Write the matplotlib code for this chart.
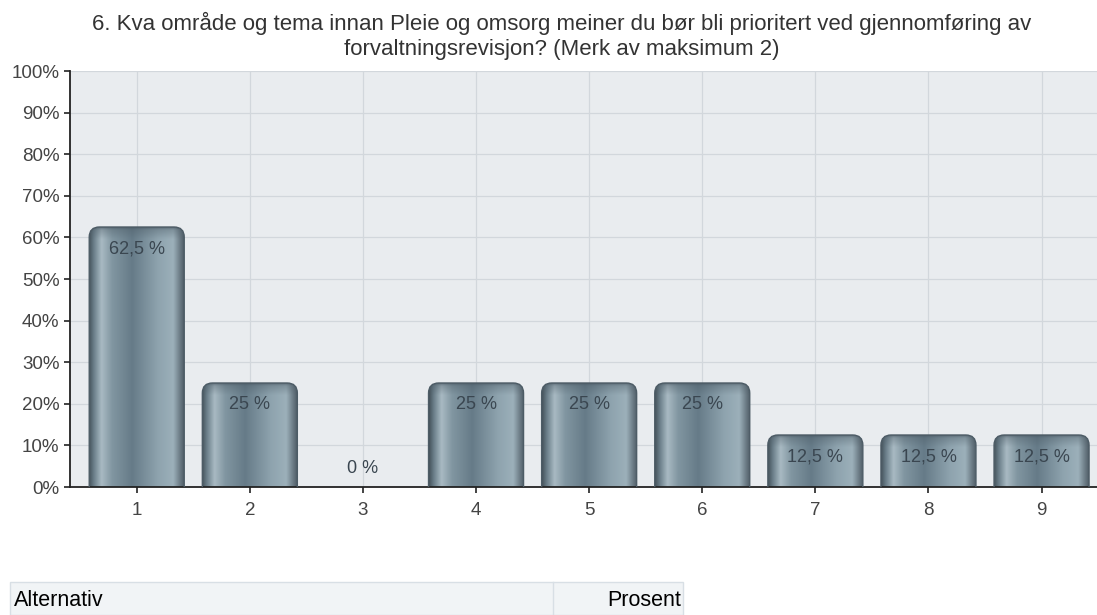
import numpy as np
import matplotlib
matplotlib.use("Agg")
import matplotlib.pyplot as plt
from matplotlib.patches import FancyBboxPatch, Rectangle
from matplotlib.colors import LinearSegmentedColormap

plt.rcParams["font.family"] = ["Liberation Sans", "DejaVu Sans"]

TITLE = ("6. Kva område og tema innan Pleie og omsorg meiner du bør bli prioritert ved gjennomføring av\n"
         "forvaltningsrevisjon? (Merk av maksimum 2)")
categories = [1, 2, 3, 4, 5, 6, 7, 8, 9]
percent = [62.5, 25, 0, 25, 25, 25, 12.5, 12.5, 12.5]
bar_labels = ["62,5 %", "25 %", "0 %", "25 %", "25 %", "25 %", "12,5 %", "12,5 %", "12,5 %"]
yticks = [0, 10, 20, 30, 40, 50, 60, 70, 80, 90, 100]
table_header = ["Alternativ", "Prosent"]

fig = plt.figure(figsize=(10.97, 6.15), dpi=100)
ax = fig.add_axes([70 / 1097, 1 - 487 / 615, 1 - 70 / 1097 + 0.001, (487 - 71) / 615])
ax.set_facecolor("#e9ecef")

bars = ax.bar(categories, percent, width=0.84, color="none", edgecolor="none", zorder=2)

# cylinder-like gradient across each bar
cmap = LinearSegmentedColormap.from_list("cyl", [
    (0.0, "#46535c"), (0.05, "#6b7f8a"), (0.13, "#a9bac3"), (0.24, "#8196a1"),
    (0.45, "#667b88"), (0.72, "#8ea3ae"), (0.88, "#9cb0ba"), (0.96, "#65747e"), (1.0, "#4a5862")])
grad = np.linspace(0, 1, 256).reshape(1, -1)
rim = LinearSegmentedColormap.from_list(
    "rim", [(0, (0.3, 0.36, 0.4, 0.0)), (0.7, (0.3, 0.36, 0.4, 0.35)), (1, (0.25, 0.3, 0.34, 0.8))])

px_x, px_y = 113.0, 4.16  # pixels per data unit
for rect in bars:
    x0, w, h = rect.get_x(), rect.get_width(), rect.get_height()
    if h <= 0:
        continue
    patch = FancyBboxPatch((x0, -5), w, h + 5, boxstyle="round,pad=0,rounding_size=0.09",
                           mutation_aspect=px_x / px_y, facecolor="none",
                           edgecolor="#4d5c66", linewidth=1.0, zorder=3)
    ax.add_patch(patch)
    im = ax.imshow(grad, cmap=cmap, aspect="auto", extent=(x0, x0 + w, -5, h),
                   zorder=2.5, interpolation="bilinear")
    im.set_clip_path(patch)
    top = ax.imshow(np.linspace(0, 1, 64).reshape(-1, 1), cmap=rim, aspect="auto",
                    extent=(x0, x0 + w, h - 3.0, h), zorder=2.6, origin="lower")
    top.set_clip_path(patch)

for x, v, lab in zip(categories, percent, bar_labels):
    ax.text(x, v - 3.2 if v > 0 else 2.3, lab, ha="center", va="top" if v > 0 else "bottom",
            fontsize=13, color="#3a4650", zorder=5)

ax.set_xlim(0.41, 9.5)
ax.set_ylim(0, 100)
ax.set_xticks(categories)
ax.set_yticks(yticks)
ax.set_yticklabels([f"{t}%" for t in yticks])
ax.grid(True, color="#d2d7dc", linewidth=0.9, zorder=0)
ax.set_axisbelow(True)
ax.tick_params(axis="both", direction="out", length=4, width=1.2, color="#222222",
               labelsize=13.5, labelcolor="#444444")
ax.tick_params(axis="x", pad=7)
for s in ["top", "right"]:
    ax.spines[s].set_visible(False)
for s in ["left", "bottom"]:
    ax.spines[s].set_color("#222222")
    ax.spines[s].set_linewidth(1.3)

fig.text(562 / 1097, 1 - 36 / 615, TITLE, ha="center", va="center", fontsize=16,
         color="#333333", linespacing=1.25)

# table header below chart
fig.patches.append(Rectangle((10 / 1097, 0), (683 - 10) / 1097, (615 - 582) / 615,
                             transform=fig.transFigure, facecolor="#f1f4f6",
                             edgecolor="#d8dfe5", linewidth=1))
fig.lines.append(plt.Line2D([553 / 1097, 553 / 1097], [0, (615 - 582) / 615],
                            transform=fig.transFigure, color="#d8dfe5", linewidth=1))
fig.text(14 / 1097, 1 - 601 / 615, table_header[0], ha="left", va="center", fontsize=15.5, color="black")
fig.text(681 / 1097, 1 - 601 / 615, table_header[1], ha="right", va="center", fontsize=15.5, color="black")

fig.savefig("out.png", dpi=100)
